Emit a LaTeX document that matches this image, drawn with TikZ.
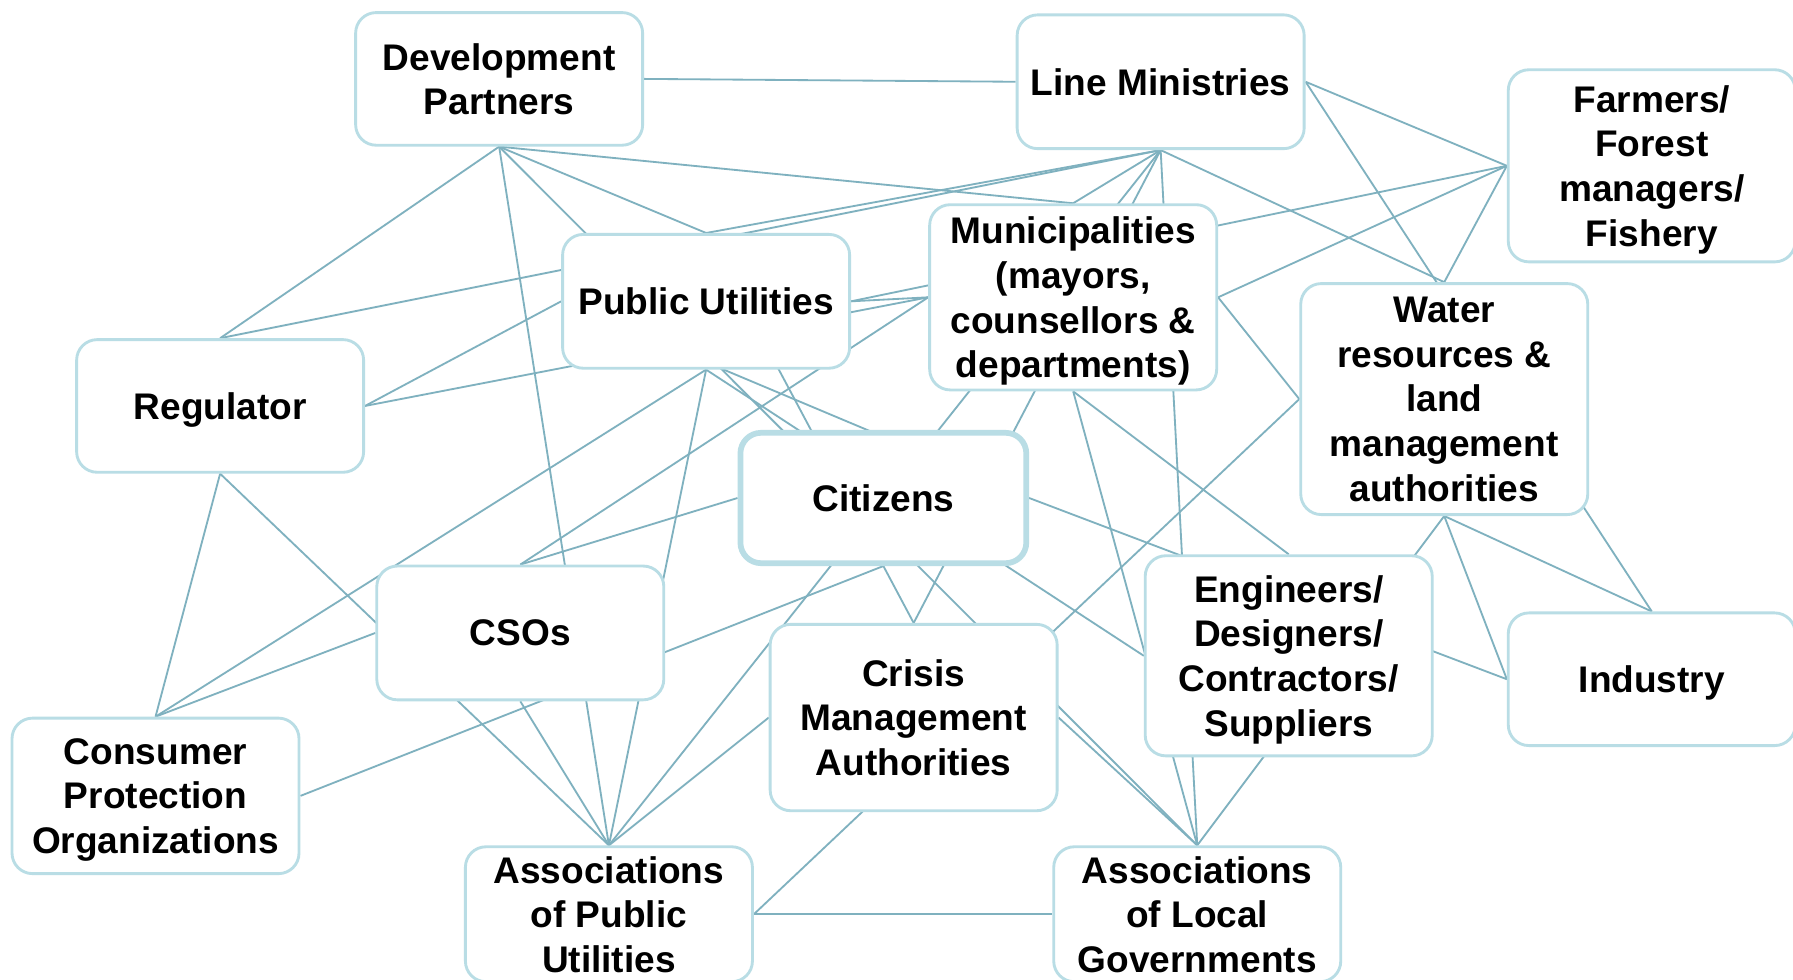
\documentclass[tikz,border=0pt]{standalone}
\usepackage{fontspec}
\setmainfont{Liberation Sans}
\usetikzlibrary{backgrounds}
\definecolor{boxc}{HTML}{B9DDE5}
\definecolor{linec}{HTML}{7FB1BF}
\begin{document}
\begin{tikzpicture}[x=1pt,y=-1pt,
  box/.style={draw=boxc, line width=2.5pt, fill=white, rounded corners=18pt,
    align=center, minimum width=251pt, inner sep=0pt, text depth=0pt,
    font=\fontsize{32.4}{39}\selectfont\bfseries},
  conn/.style={draw=linec, line width=1.6pt}]
\useasboundingbox (0,0) rectangle (1568,857);
\node[box, minimum height=116pt] (DP) at (436.5,69) {Development\\Partners};
\node[box, minimum height=117pt] (LM) at (1015,71.5) {Line Ministries};
\node[box, minimum height=168pt] (FF) at (1444.5,145) {Farmers/\\Forest\\managers/\\Fishery};
\node[box, minimum height=117pt] (PU) at (617.5,263.5) {Public Utilities};
\node[box, minimum height=162pt] (MU) at (938.5,260) {Municipalities\\(mayors,\\counsellors \&\\departments)};
\node[box, minimum height=116pt] (RG) at (192.5,355) {Regulator};
\node[box, minimum height=202pt] (WR) at (1263,349) {Water\\resources \&\\land\\management\\authorities};
\node[box, line width=5pt, minimum width=250pt, minimum height=114pt] (CI) at (772.5,435.5) {Citizens};
\node[box, minimum height=117pt] (CS) at (455,553.5) {CSOs};
\node[box, minimum height=163pt] (CM) at (799,627.5) {Crisis\\Management\\Authorities};
\node[box, minimum height=175pt] (EN) at (1127,573.5) {Engineers/\\Designers/\\Contractors/\\Suppliers};
\node[box, minimum height=116pt] (IN) at (1444.5,594) {Industry};
\node[box, minimum height=136pt] (CP) at (136,696) {Consumer\\Protection\\Organizations};
\node[box, minimum height=118pt] (AP) at (532.5,799.5) {Associations\\of Public\\Utilities};
\node[box, minimum height=118pt] (AL) at (1047,799.5) {Associations\\of Local\\Governments};
\begin{pgfonlayer}{background}
\fill[white] (0,0) rectangle (1568,857);
\draw[conn] (DP.east) -- (LM.west);
\draw[conn] (DP.south) -- (RG.north);
\draw[conn] (DP.south) -- (AP.north);
\draw[conn] (DP.south) -- (AL.north);
\draw[conn] (DP.south) -- (PU.north);
\draw[conn] (DP.south) -- (MU.north);
\draw[conn] (LM.south) -- (PU.north);
\draw[conn] (LM.south) -- (RG.north);
\draw[conn] (LM.south) -- (MU.north);
\draw[conn] (LM.south) -- (AP.north);
\draw[conn] (LM.south) -- (CM.north);
\draw[conn] (LM.south) -- (AL.north);
\draw[conn] (LM.south) -- (WR.north);
\draw[conn] (LM.east) -- (FF.west);
\draw[conn] (LM.east) -- (IN.north);
\draw[conn] (FF.west) -- (PU.east);
\draw[conn] (FF.west) -- (MU.east);
\draw[conn] (FF.west) -- (WR.north);
\draw[conn] (MU.east) -- (WR.west);
\draw[conn] (WR.west) -- (AP.east);
\draw[conn] (RG.east) -- (PU.west);
\draw[conn] (RG.east) -- (MU.west);
\draw[conn] (RG.south) -- (CP.north);
\draw[conn] (RG.south) -- (AP.north);
\draw[conn] (CP.north) -- (CS.west);
\draw[conn] (CP.north) -- (PU.south);
\draw[conn] (CP.east) -- (CI.south);
\draw[conn] (MU.west) -- (CS.north);
\draw[conn] (CS.north) -- (CI.west);
\draw[conn] (PU.south) -- (AP.north);
\draw[conn] (CS.south) -- (AP.north);
\draw[conn] (PU.north) -- (CM.north);
\draw[conn] (PU.south) -- (EN.west);
\draw[conn] (PU.west) -- (CI.east);
\draw[conn] (PU.east) -- (MU.west);
\draw[conn] (CI.east) -- (IN.west);
\draw[conn] (MU.south) -- (AL.north);
\draw[conn] (MU.south) -- (EN.north);
\draw[conn] (WR.south) -- (AL.north);
\draw[conn] (WR.south) -- (IN.north);
\draw[conn] (WR.south) -- (IN.west);
\draw[conn] (CM.west) -- (AP.north);
\draw[conn] (CM.east) -- (AL.north);
\draw[conn] (AP.east) -- (AL.west);
\end{pgfonlayer}
\end{tikzpicture}
\end{document}
